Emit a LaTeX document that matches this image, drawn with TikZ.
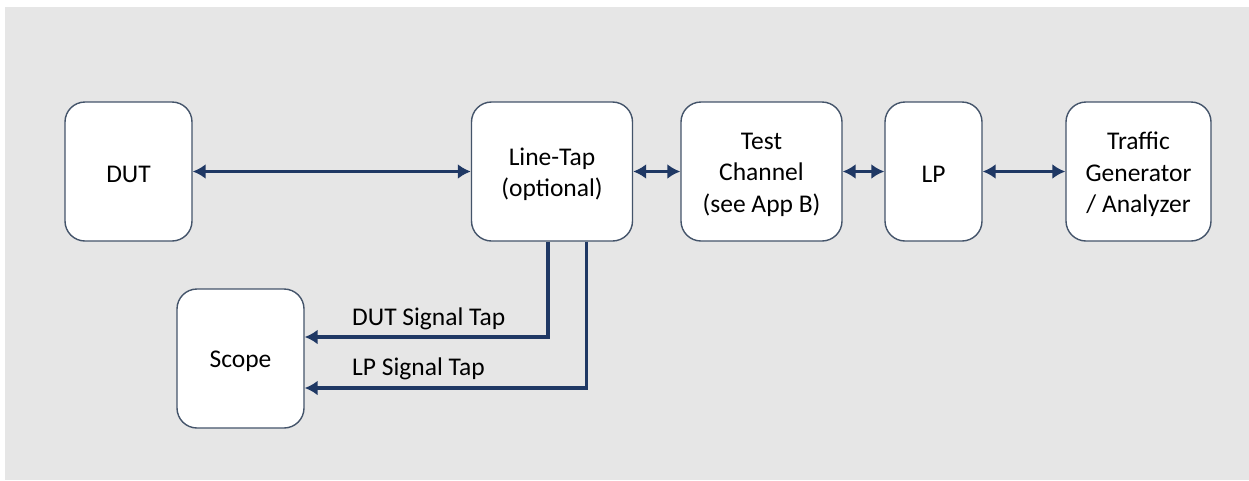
\documentclass[tikz,border=0pt]{standalone}
\usepackage{fontspec}
\setmainfont{Carlito}
\usetikzlibrary{arrows.meta}
\definecolor{panel}{RGB}{230,230,230}
\definecolor{boxline}{RGB}{68,84,106}
\definecolor{wire}{RGB}{31,56,100}
\tikzset{
  block/.style={draw=boxline, line width=1.4pt, fill=white, rounded corners=20pt,
    minimum height=139pt, inner sep=0pt},
  blocktext/.style={align=center, inner sep=0pt, yshift=-3pt,
    font=\fontsize{25.5}{31.5}\selectfont},
  caption/.style={label={[blocktext]center:#1}},
  link/.style={draw=wire, line width=3.6pt, {Latex[length=13pt,width=15pt]}-{Latex[length=13pt,width=15pt]}},
  tap/.style={draw=wire, line width=3.6pt, -{Latex[length=13pt,width=15pt]}},
  lbl/.style={anchor=base west, inner sep=0pt, font=\fontsize{25.5}{30}\selectfont}
}
\begin{document}
\begin{tikzpicture}[x=1pt,y=1pt]
  \useasboundingbox (0,0) rectangle (1249,-480);
  \fill[panel] (5,-7) rectangle (1249,-480);

  % blocks
  \node[block, minimum width=127pt, caption={DUT}] (DUT) at (128.5,-171.5) {};
  \node[block, minimum width=161pt, caption={Line-Tap\\(optional)}] (LT) at (552,-171.5) {};
  \node[block, minimum width=161pt, caption={Test\\Channel\\(see App B)}] (TC) at (761.5,-171.5) {};
  \node[block, minimum width=97pt, caption={LP}] (LP) at (933.5,-171.5) {};
  \node[block, minimum width=145pt, caption={Traffic\\Generator\\/ Analyzer}] (TG) at (1138.5,-171.5) {};
  \node[block, minimum width=127pt, caption={Scope}] (SC) at (240.5,-358.5) {};

  % main signal chain
  \draw[link] (DUT) -- (LT);
  \draw[link] (LT) -- (TC);
  \draw[link] (TC) -- (LP);
  \draw[link] (LP) -- (TG);

  % tap outputs to the scope
  \draw[tap] ([xshift=-4pt]LT.south) |- ([yshift=21.5pt]SC.east);
  \draw[tap] ([xshift=34.5pt]LT.south) |- ([yshift=-29.5pt]SC.east);

  \node[lbl] (l1) at (352,-325) {DUT Signal Tap};
  \node[lbl] (l2) at (352,-375.7) {LP Signal Tap};
\end{tikzpicture}
\end{document}
